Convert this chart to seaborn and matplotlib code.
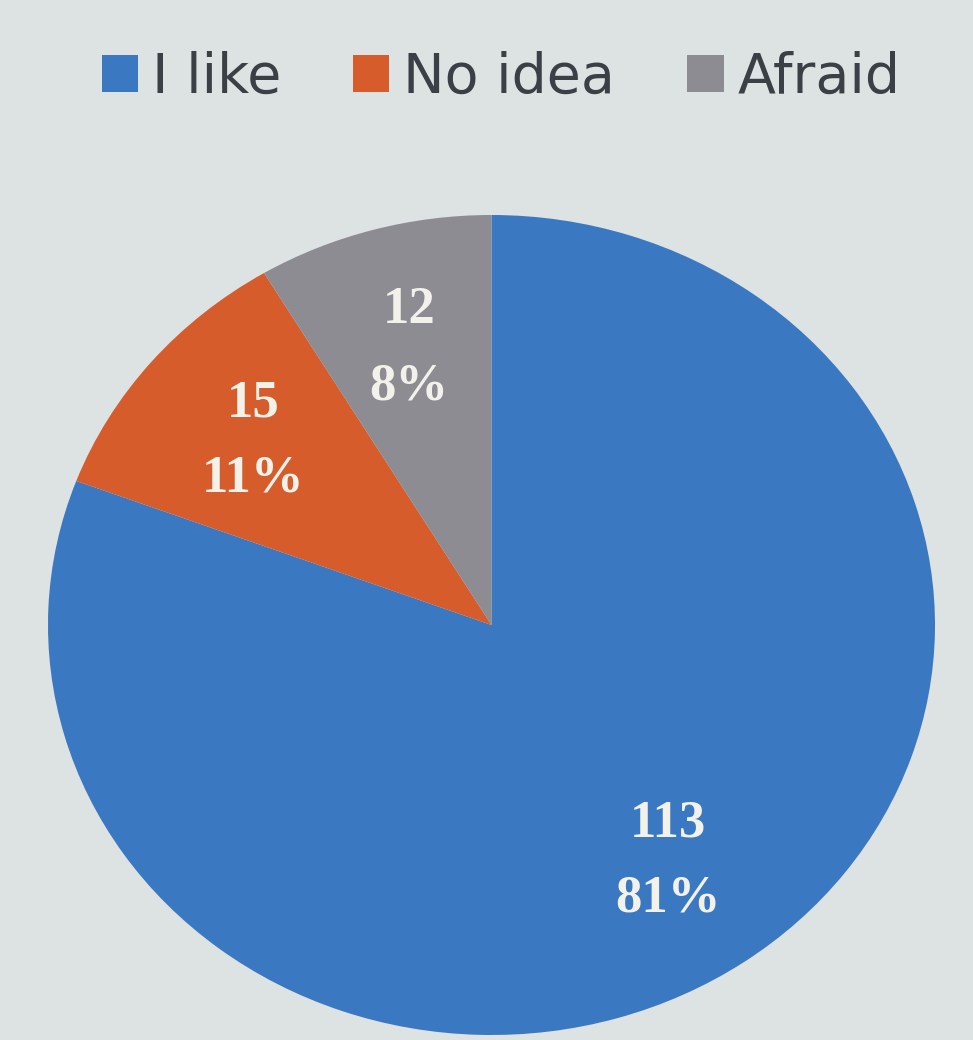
# -*- coding: utf-8 -*-
import numpy as np
from matplotlib import pyplot as plt
import seaborn as sns

# data
labels = ['I like', 'No idea', 'Afraid']
counts = [113, 15, 12]
pct_labels = ['81%', '11%', '8%']

colors = ['#3b78c2', '#d65c2c', '#8c8c92']

sns.set_theme(style='white')
plt.rcParams['font.family'] = ['DejaVu Sans']

fig = plt.figure(figsize=(9.73, 10.4), dpi=100)
fig.patch.set_facecolor('#dde2e3')

# axes box matches the (slightly stretched) pie in the photo
ax = fig.add_axes([48 / 973, 1 - 1035 / 1040, 887 / 973, 820 / 1040])
ax.set_facecolor('none')

wedges, _ = ax.pie(counts, colors=sns.color_palette(colors), startangle=90,
                   counterclock=False, radius=1.0,
                   wedgeprops=dict(linewidth=0))

# value + percent labels inside each slice
for w, c, p in zip(wedges, counts, pct_labels):
    ang = np.deg2rad((w.theta1 + w.theta2) / 2)
    ax.text(0.70 * np.cos(ang), 0.70 * np.sin(ang), f'{c}\n{p}',
            ha='center', va='center', color='#f2f2ea', fontsize=38,
            fontweight='bold', family=['Liberation Serif', 'DejaVu Serif'],
            linespacing=1.75)

ax.set_xlim(-1, 1)
ax.set_ylim(-1, 1)
ax.set_aspect('auto')
ax.axis('off')

leg = fig.legend(wedges, labels, loc='center', bbox_to_anchor=(0.515, 0.925),
                 ncol=3, frameon=False, fontsize=40, handlelength=0.65,
                 handleheight=0.65, handletextpad=0.25, columnspacing=1.3,
                 labelcolor='#3a4046')

plt.savefig('out.png', dpi=100, facecolor=fig.get_facecolor())
